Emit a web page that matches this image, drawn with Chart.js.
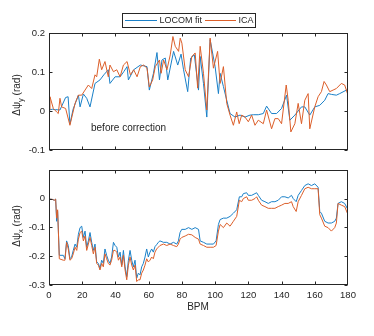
<!DOCTYPE html>
<html><head><meta charset="utf-8">
<script src="https://cdn.jsdelivr.net/npm/chart.js@4"></script>
<style>
body{margin:0;background:#fff}
#wrap{position:relative;width:374px;height:336px;background:#fff}
#c1{position:absolute;left:0;top:0}
#c2{position:absolute;left:0;top:160px}
</style></head>
<body>
<div id="wrap"><canvas id="c1" width="374" height="160"></canvas><canvas id="c2" width="374" height="176"></canvas></div>
<script>
// ---------- DATA ----------
const seriesNames = ['LOCOM fit', 'ICA'];
const xTickValues = [0, 20, 40, 60, 80, 100, 120, 140, 160, 180];

// Top panel: delta psi_y, LOCOM fit
const topLocomX = [0,2,4,6.6,10,11.5,12.6,14.5,17.7,18.7,20.7,22.7,24.7,27.7,30.7,33,35.7,36.7,39.8,42.8,45,47,47.8,51,55,59,60.4,62.9,65,66.5,68,70,71.5,75,77.5,79.5,81,83.5,85.3,87.5,90,91,93,95,97,100,102,103,105,107,109,112,115,118,121,123,126,129,131,134,137,140,143,145,148,152,154,157,160,163,166,168,170,173,175,180];
const topLocomY = [0.003,0.005,0.004,0.003,0.035,0.037,-0.033,0.005,0.041,0.011,0.044,0.033,0.011,0.071,0.080,0.093,0.106,0.071,0.088,0.088,0.101,0.114,0.080,0.106,0.118,0.114,0.054,0.097,0.150,0.080,0.131,0.136,0.080,0.153,0.118,0.146,0.106,0.050,0.136,0.144,0.054,0.140,0.071,-0.015,0.183,0.114,0.045,0.097,0.063,0.028,-0.006,-0.015,-0.010,-0.015,-0.010,-0.009,-0.009,-0.006,0.013,-0.006,-0.006,0.007,0.041,-0.023,-0.010,0.011,0.011,-0.010,0.011,0.015,0.028,0.045,0.043,0.041,0.045,0.056];

// Top panel: delta psi_y, ICA
const topIcaX = [0,0.6,2.6,4.6,5.6,6.6,7.6,10,12.6,15.7,17.7,19.7,21.7,23.7,25.7,27.7,28.7,30.3,31.7,33.7,35.7,36.7,38.8,40.8,42.8,44.8,47,49,51,53,55,57,59,60.4,62.4,64,66.5,67.5,69,71,73,74.6,76,78,79,80,82,84,86,88,89.5,91,93,95,97,99,101.5,103,105,107,109,111,113,114.5,116,118,120,122,124,126,129,131,134,136,138,140,142.8,144,145.6,148,150,152,154,156,157,160,162,164,165.6,167,169,171,173,176,178,180];
const topIcaY = [0.003,0.037,0.007,-0.002,-0.006,0.033,0.011,0.007,-0.036,0.020,0.041,0.041,0.054,0.067,0.058,0.093,0.088,0.133,0.106,0.127,0.088,0.118,0.101,0.106,0.088,0.118,0.127,0.093,0.106,0.088,0.114,0.118,0.110,0.062,0.080,0.114,0.131,0.097,0.131,0.106,0.144,0.191,0.166,0.153,0.187,0.174,0.106,0.088,0.140,0.149,0.059,0.166,0.097,0.003,0.187,0.110,0.153,0.071,0.114,0.020,-0.010,-0.036,-0.002,-0.032,-0.010,-0.015,-0.027,-0.010,-0.036,-0.023,-0.032,0.003,-0.045,-0.019,-0.019,-0.032,0.067,0.028,-0.053,-0.032,0.020,-0.032,0.028,0.045,-0.045,0.011,0.037,0.050,0.076,0.067,0.050,0.054,0.058,0.071,0.067,0.041];

// Bottom panel: delta psi_x (shared x positions)
const botX = [0,2,3.2,4,4.6,5.2,6.2,8.6,9.6,10.6,11.6,12.6,13.6,14.6,15.7,16.7,17.7,18.7,19.7,20.7,21.7,22.7,23.7,24.7,25.7,26.7,27.7,28.7,29.7,30.7,31.7,32.7,33.7,34.7,35.7,36.7,37.7,38.8,39.8,40.8,41.8,42.8,43.8,44.8,45.8,46.8,47.8,48.8,49.8,50.8,51.8,52.8,53.8,54.8,55.8,56.8,57.8,58.8,59.8,60.8,61.8,62.8,63.8,64.8,65.8,66.8,68.9,70.9,72.9,74.9,76.9,77.9,78.9,79.9,82,84,86,88,90,91,93,95,97,99,100.6,102,103,105,107,109,111,113,114.6,116,117,119,120,122,124,125,126,128,130,132,134,136,138,140,142,144,146,147,148.8,150,152,154,156,158,160,162,163,164,166,168,170,172,173,174,176,178,180];
const botLocomY = [-0.002,-0.003,-0.006,-0.002,-0.079,-0.045,-0.197,-0.197,-0.209,-0.147,-0.163,-0.209,-0.203,-0.180,-0.158,-0.169,-0.124,-0.101,-0.096,-0.135,-0.113,-0.169,-0.147,-0.118,-0.152,-0.180,-0.158,-0.220,-0.225,-0.242,-0.214,-0.225,-0.175,-0.197,-0.214,-0.225,-0.203,-0.152,-0.163,-0.169,-0.203,-0.186,-0.231,-0.180,-0.237,-0.271,-0.214,-0.180,-0.214,-0.237,-0.214,-0.276,-0.259,-0.265,-0.237,-0.225,-0.203,-0.175,-0.203,-0.186,-0.175,-0.186,-0.167,-0.160,-0.152,-0.147,-0.152,-0.152,-0.158,-0.152,-0.158,-0.147,-0.118,-0.107,-0.107,-0.101,-0.107,-0.101,-0.107,-0.147,-0.152,-0.158,-0.158,-0.158,-0.147,-0.090,-0.073,-0.068,-0.068,-0.062,-0.051,-0.039,0.006,0.006,0.017,0.020,0.011,0.011,0.017,0.020,0.011,-0.006,-0.011,-0.017,-0.011,-0.011,-0.006,0.006,0.006,0.002,0.011,0.000,-0.011,0.011,0.028,0.045,0.051,0.045,0.051,0.039,-0.045,-0.051,-0.079,-0.085,-0.085,-0.079,-0.068,-0.017,-0.011,-0.017,-0.039];
const botIcaY = [-0.002,-0.003,-0.006,-0.002,-0.068,-0.039,-0.209,-0.214,-0.214,-0.152,-0.175,-0.214,-0.209,-0.192,-0.169,-0.180,-0.141,-0.118,-0.113,-0.147,-0.130,-0.180,-0.158,-0.135,-0.163,-0.192,-0.169,-0.225,-0.231,-0.248,-0.225,-0.237,-0.192,-0.209,-0.225,-0.231,-0.214,-0.180,-0.180,-0.186,-0.214,-0.203,-0.237,-0.197,-0.248,-0.282,-0.231,-0.203,-0.231,-0.248,-0.231,-0.288,-0.282,-0.282,-0.259,-0.248,-0.231,-0.209,-0.220,-0.214,-0.203,-0.209,-0.186,-0.175,-0.169,-0.163,-0.158,-0.163,-0.158,-0.163,-0.167,-0.158,-0.141,-0.135,-0.130,-0.124,-0.126,-0.135,-0.141,-0.158,-0.163,-0.169,-0.169,-0.169,-0.163,-0.113,-0.090,-0.101,-0.085,-0.096,-0.079,-0.062,-0.006,-0.011,0.000,0.006,-0.006,-0.006,0.000,0.006,-0.006,-0.023,-0.028,-0.034,-0.034,-0.034,-0.028,-0.023,-0.017,-0.017,-0.011,-0.028,-0.045,-0.011,0.011,0.034,0.039,0.034,0.034,0.034,-0.056,-0.068,-0.096,-0.101,-0.113,-0.101,-0.085,-0.017,-0.023,-0.028,-0.056];

// ---------- STYLE ----------
const BLUE = '#1a80c8', ORANGE = '#dc5f2a', INK = '#262626';
const FAM = '"Liberation Sans", Arial, Helvetica, sans-serif';

function pts(xs, ys){ return xs.map((x,i)=>({x:x, y:ys[i]})); }
function fmt(v){ const r = Math.round(v*10)/10; return r === 0 ? '0' : String(r); }

function yTitle(ctx, cx, cy, main, sub, rest){
  ctx.save(); ctx.translate(cx, cy); ctx.rotate(-Math.PI/2);
  const f1 = '10px ' + FAM, f2 = '7.5px ' + FAM;
  ctx.font = f1; const w1 = ctx.measureText(main).width, w3 = ctx.measureText(rest).width;
  ctx.font = f2; const w2 = ctx.measureText(sub).width;
  let x = -(w1 + w2 + w3)/2;
  ctx.textBaseline = 'middle'; ctx.fillStyle = INK; ctx.textAlign = 'left';
  ctx.font = f1; ctx.fillText(main, x, 0); x += w1;
  ctx.font = f2; ctx.fillText(sub, x, 3.5); x += w2;
  ctx.font = f1; ctx.fillText(rest, x, 0);
  ctx.restore();
}

function framePlugin(extra){
  return {
    id: 'frame',
    afterDraw(chart){
      const ctx = chart.ctx, a = chart.chartArea, xs = chart.scales.x, ys = chart.scales.y;
      ctx.save();
      ctx.strokeStyle = INK; ctx.lineWidth = 1;
      const L = Math.round(a.left)+0.5, R = Math.round(a.right)-0.5, T = Math.round(a.top)+0.5, B = Math.round(a.bottom)-0.5;
      ctx.beginPath();
      xTickValues.forEach(v => {
        if (v <= xs.min || v >= xs.max) return;
        const px = Math.round(xs.getPixelForValue(v))+0.5;
        ctx.moveTo(px, B); ctx.lineTo(px, B-3);
        ctx.moveTo(px, T); ctx.lineTo(px, T+3);
      });
      ys.ticks.forEach(t => {
        const py = Math.round(ys.getPixelForValue(t.value))+0.5;
        ctx.moveTo(L, py); ctx.lineTo(L+3, py);
        ctx.moveTo(R, py); ctx.lineTo(R-3, py);
      });
      ctx.stroke();
      ctx.strokeRect(L, T, R-L, B-T);
      extra(ctx, chart);
      ctx.restore();
    }
  };
}

function makeChart(id, datasets, yMin, yMax, hideLabels, showX, axisH, padTop, extra){
  return new Chart(document.getElementById(id), {
    type: 'line',
    data: { datasets: datasets },
    options: {
      responsive: false, animation: false,
      layout: { padding: { left: 0, right: 26, top: padTop, bottom: 0 } },
      plugins: { legend: { display: false }, tooltip: { enabled: false } },
      elements: { point: { radius: 0 }, line: { tension: 0, borderWidth: 1 } },
      scales: {
        x: {
          type: 'linear', min: 0, max: 180,
          grid: { display: false, drawTicks: false, tickLength: 0 }, border: { display: false },
          ticks: { display: showX, stepSize: 20, padding: 5, color: INK, font: { family: FAM, size: 9.5 }, maxRotation: 0, autoSkip: false },
          afterFit(s){ s.height = axisH; }
        },
        y: {
          min: yMin, max: yMax,
          grid: { display: false, drawTicks: false, tickLength: 0 }, border: { display: false },
          ticks: { stepSize: 0.1, padding: 4, color: INK, font: { family: FAM, size: 9.5 },
                   callback: v => hideLabels.includes(fmt(v)) ? '' : fmt(v) },
          afterFit(s){ s.width = 49; }
        }
      }
    },
    plugins: [framePlugin(extra)]
  });
}

function ds(label, data, color, order){
  return { label: label, data: data, borderColor: color, backgroundColor: color, borderWidth: 1, pointRadius: 0, order: order, fill: false };
}

// Top panel
makeChart('c1', [
  ds(seriesNames[0], pts(topLocomX, topLocomY), BLUE, 2),
  ds(seriesNames[1], pts(topIcaX, topIcaY), ORANGE, 1)
], -0.1, 0.2, [], false, 9, 33, (ctx, chart) => {
  // legend
  ctx.fillStyle = '#fff'; ctx.fillRect(122.5, 13.5, 133, 14);
  ctx.strokeStyle = INK; ctx.lineWidth = 1; ctx.strokeRect(122.5, 13.5, 133, 14);
  ctx.lineWidth = 1;
  ctx.strokeStyle = BLUE; ctx.beginPath(); ctx.moveTo(125, 20.5); ctx.lineTo(157, 20.5); ctx.stroke();
  ctx.strokeStyle = ORANGE; ctx.beginPath(); ctx.moveTo(205, 20.5); ctx.lineTo(236, 20.5); ctx.stroke();
  ctx.fillStyle = INK; ctx.font = '9px ' + FAM; ctx.textBaseline = 'middle'; ctx.textAlign = 'left';
  ctx.fillText(seriesNames[0], 159.5, 21);
  ctx.fillText(seriesNames[1], 238.5, 21);
  // annotation
  ctx.font = '10px ' + FAM; ctx.fillText('before correction', 91, 128.5);
  yTitle(ctx, 17, 95, 'Δψ', 'y', ' (rad)');
});

// Bottom panel
makeChart('c2', [
  ds(seriesNames[0], pts(botX, botLocomY), BLUE, 2),
  ds(seriesNames[1], pts(botX, botIcaY), ORANGE, 1)
], -0.3, 0.1, ['0.1'], true, 51, 7.3, (ctx, chart) => {
  ctx.fillStyle = INK; ctx.font = '10px ' + FAM; ctx.textAlign = 'center'; ctx.textBaseline = 'middle';
  ctx.fillText('BPM', 198, 147);
  yTitle(ctx, 17, 66, 'Δψ', 'x', ' (rad)');
});
</script>
</body></html>
